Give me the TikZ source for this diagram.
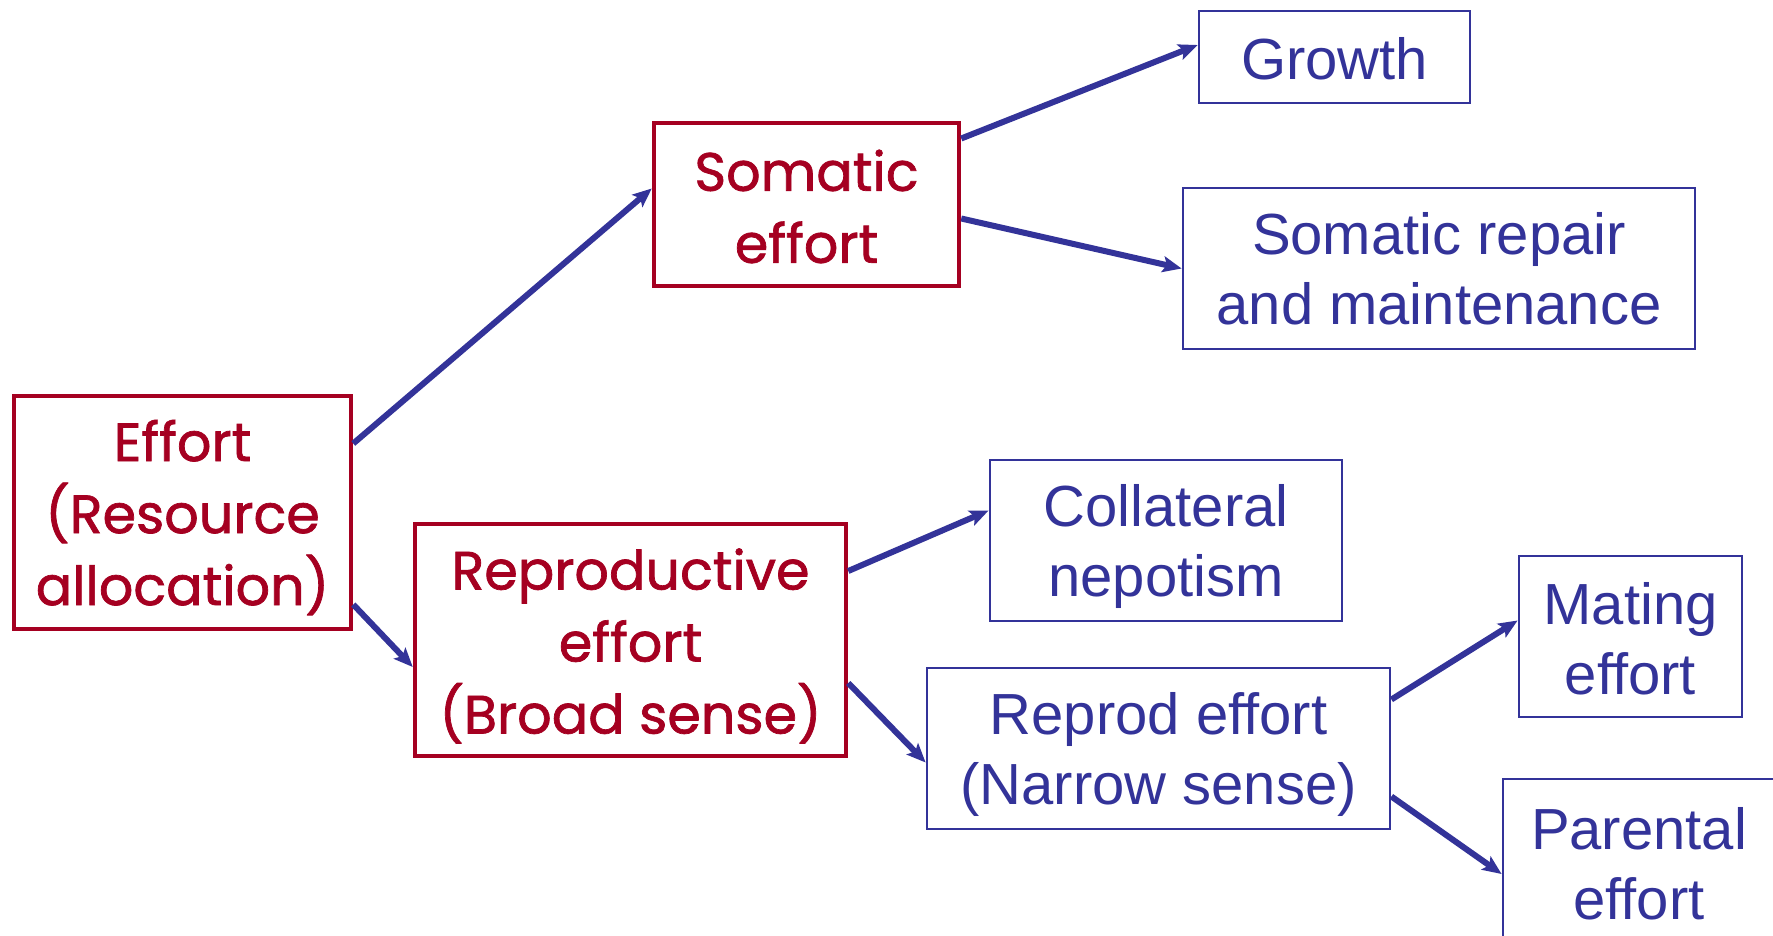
\documentclass[tikz,border=0pt]{standalone}
\usepackage{fontspec}
\setmainfont{Liberation Sans}
\newfontfamily\redfont[FakeBold=1.3]{Poppins}
\usetikzlibrary{arrows.meta}
\definecolor{dred}{HTML}{A50021}
\definecolor{dblue}{HTML}{333399}
\tikzset{
  redbox/.style={draw=dred, line width=4.5pt, inner sep=0pt},
  rtxt/.style={text=dred, inner sep=0pt, align=center, font=\redfont\fontsize{54}{72}\selectfont},
  bluebox/.style={draw=dblue, line width=2.8pt, inner sep=0pt},
  btxt/.style={text=dblue, inner sep=0pt, align=center, font=\fontsize{58}{70}\selectfont},
  conn/.style={draw=dblue, line width=6pt, -{Stealth[length=19pt,width=16pt,inset=4pt]}},
}
\begin{document}
\begin{tikzpicture}[x=1pt,y=-1pt]
\useasboundingbox (0,0) rectangle (1773,936);
\clip (0,0) rectangle (1773,936);
\fill[white] (0,0) rectangle (1773,936);
\node[redbox, minimum width=337pt, minimum height=233pt,
  label={[rtxt,yshift=-5pt]center:Effort\\(Resource\\allocation)}] (eff) at (182.5,512.5) {};
\node[redbox, minimum width=305pt, minimum height=163pt,
  label={[rtxt,yshift=-2pt]center:Somatic\\effort}] (som) at (806.5,204.5) {};
\node[redbox, minimum width=431pt, minimum height=232pt,
  label={[rtxt,yshift=-6pt]center:Reproductive\\effort\\(Broad sense)}] (rep) at (630.5,640) {};
\node[bluebox, minimum width=271pt, minimum height=92pt,
  label={[btxt,yshift=-2pt]center:Growth}] (gro) at (1334.5,57) {};
\node[bluebox, minimum width=512pt, minimum height=161pt,
  label={[btxt]center:Somatic repair\\and maintenance}] (rm) at (1439,268.5) {};
\node[bluebox, minimum width=352pt, minimum height=161pt,
  label={[btxt,yshift=-6pt]center:Collateral\\nepotism}] (col) at (1166,540.5) {};
\node[bluebox, minimum width=463pt, minimum height=161pt,
  label={[btxt,yshift=-6pt]center:Reprod effort\\(Narrow sense)}] (nar) at (1158.5,748.5) {};
\node[bluebox, minimum width=223pt, minimum height=161pt,
  label={[btxt,yshift=-2pt]center:Mating\\effort}] (mat) at (1630.5,636.5) {};
\node[bluebox, minimum width=272pt, minimum height=170pt,
  label={[btxt]center:Parental\\effort}] (par) at (1639,864) {};
\draw[conn] ([yshift=69pt]eff.east) -- ([yshift=16pt]som.west);
\draw[conn] ([yshift=-92pt]eff.east) -- ([yshift=-27pt]rep.west);
\draw[conn] ([yshift=66pt]som.east) -- ([yshift=12pt]gro.west);
\draw[conn] ([yshift=-14pt]som.east) -- (rm.west);
\draw[conn] ([yshift=69pt]rep.east) -- ([yshift=30pt]col.west);
\draw[conn] ([yshift=-43pt]rep.east) -- ([yshift=-14pt]nar.west);
\draw[conn] ([yshift=49pt]nar.east) -- ([yshift=16pt]mat.west);
\draw[conn] ([yshift=-48pt]nar.east) -- ([yshift=-10pt]par.west);
\end{tikzpicture}
\end{document}
